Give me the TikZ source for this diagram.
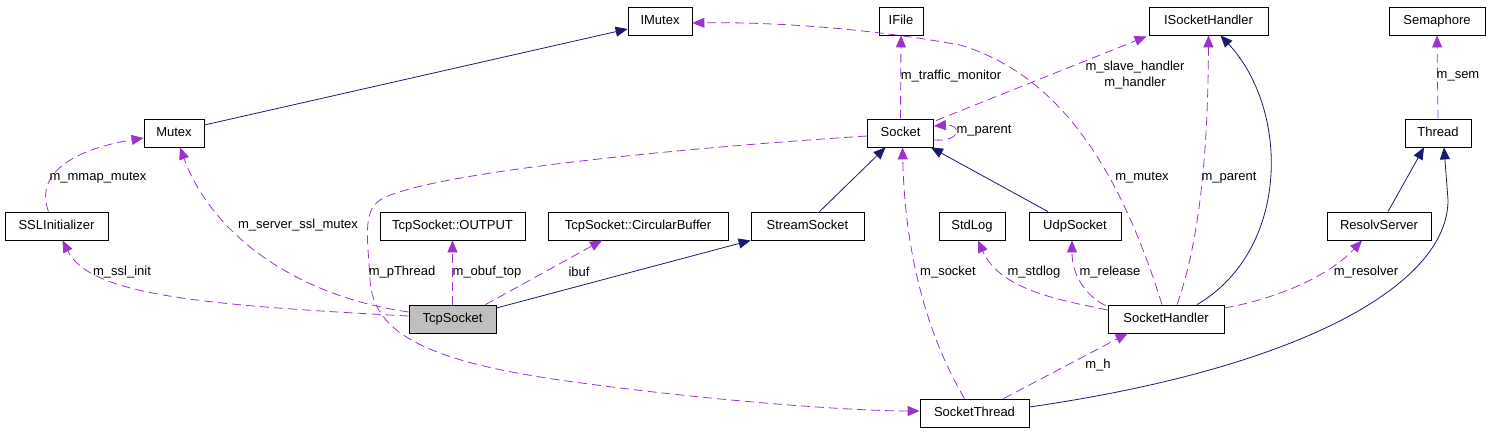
\documentclass[tikz,border=0pt]{standalone}
\usepackage{fontspec}
\setmainfont{Liberation Sans}
\usepackage{tikz}
\usetikzlibrary{arrows.meta, positioning, calc}
\definecolor{usage}{RGB}{154, 50, 205}
\definecolor{inherit}{RGB}{25, 25, 112}
\definecolor{focus}{RGB}{191, 191, 191}

\begin{document}
\begin{tikzpicture}[x=1pt, y=-1pt,
		box/.style={rectangle, draw=black, line width=0.8pt,
			minimum height=28pt, minimum width=#1, inner sep=0pt,
			text height=9.5pt, text depth=2.5pt,
			font=\fontsize{13}{16}\selectfont},
		box/.default=60pt,
		member/.style={-{Triangle[length=12pt, width=10pt]}, line width=0.8pt,
			dash pattern=on 9pt off 5pt, color=usage},
		derive/.style={-{Triangle[length=12pt, width=10pt]}, line width=0.8pt,
			color=inherit},
		lbl/.style={font=\fontsize{13}{16}\selectfont, align=center,
			inner sep=0pt, text=black}
		]
		\useasboundingbox (0,0) rectangle (1491,432);
		
		\node[box=64pt] (imutex) at (660,21) {IMutex};
		\node[box=44pt] (ifile) at (901,21) {IFile};
		\node[box=119pt] (ishandler) at (1208.5,21) {ISocketHandler};
		\node[box=96pt] (semaphore) at (1437,21) {Semaphore};
		
		\node[box=60pt] (mutex) at (174,133) {Mutex};
		\node[box=66pt] (socket) at (900.5,133) {Socket};
		\node[box=66pt] (thread) at (1438,133) {Thread};
		
		\node[box=103pt] (sslinit) at (56.5,226) {SSLInitializer};
		\node[box=145pt] (output) at (452.5,226) {TcpSocket::OUTPUT};
		\node[box=180pt] (circbuf) at (638,226) {TcpSocket::CircularBuffer};
		\node[box=113pt] (stream) at (807.5,226) {StreamSocket};
		\node[box=66pt] (stdlog) at (972,226) {StdLog};
		\node[box=92pt] (udp) at (1075,226) {UdpSocket};
		\node[box=104pt] (resolv) at (1379,226) {ResolvServer};
		
		\node[box=87pt, fill=focus] (tcp) at (452.5,319) {TcpSocket};
		\node[box=116pt] (handler) at (1166,319) {SocketHandler};
		\node[box=109pt] (sthread) at (974.5,413) {SocketThread};
		
		% inheritance
		\draw[derive] ($(mutex.east)+(0,-8)$) -- ($(imutex.west)+(0,8)$);
		\draw[derive] ($(stream.north)+(12,0)$) -- ($(socket.south)+(-15,0)$);
		\draw[derive] ($(udp.north)+(-27,0)$) -- ($(socket.south east)+(-3,0)$);
		\draw[derive] ($(tcp.east)+(0,-11)$) -- (stream.south west);
		\draw[derive] ($(handler.north)+(31,0)$) .. controls (1290,250) and (1290,110)
		.. ($(ishandler.south)+(12,0)$);
		\draw[derive] ($(resolv.north)+(9,0)$) -- ($(thread.south)+(-14,0)$);
		\draw[derive] ($(sthread.east)+(0,-6)$) .. controls (1300,368) and (1448,285)
		.. (1448,200) -- ($(thread.south)+(6,0)$);
		
		% members
		\draw[member] ($(sslinit.north)+(-8,0)$) .. controls (35,175) and (70,150)
		.. ($(mutex.west)+(0,5)$)
		node[lbl] (lmmap) at (98,178) {m\_mmap\_mutex};
		\draw[member] ($(tcp.west)+(0,-3)$) .. controls (200,305) and (90,295)
		.. ($(sslinit.south)+(6,0)$)
		node[lbl] (lssl) at (122,272) {m\_ssl\_init};
		\draw[member] ($(tcp.west)+(0,-7)$) .. controls (290,295) and (210,230)
		.. ($(mutex.south)+(6,0)$)
		node[lbl] (lsslmutex) at (298,225) {m\_server\_ssl\_mutex};
		\draw[member] (tcp.north) -- (output.south)
		node[lbl] (lobuf) at (487,272) {m\_obuf\_top};
		\draw[member] ($(tcp.north)+(33,0)$) -- ($(circbuf.south)+(-36,0)$)
		node[lbl] (libuf) at (579,272) {ibuf};
		\draw[member] ($(socket.west)+(0,3)$) .. controls (650,150) and (420,175)
		.. (380,200) .. controls (362,212) and (368,240)
		.. (370,280) .. controls (373,330) and (420,360)
		.. (560,380) .. controls (700,400) and (850,411)
		.. ($(sthread.west)+(0,-2)$)
		node[lbl] (lpthread) at (402,272) {m\_pThread};
		\draw[member] (socket.north) -- (ifile.south)
		node[lbl] (ltraffic) at (951,76) {m\_traffic\_monitor};
		\draw[member] ($(socket.north east)+(2,2)$) -- ($(ishandler.south west)+(-2,1)$)
		node[lbl] (lhandler) at (1135,75) {m\_slave\_handler\\m\_handler};
		\draw[member] ($(socket.east)+(0,7)$) .. controls (962,142) and (962,124)
		.. ($(socket.east)+(0,-7)$)
		node[lbl] (lsparent) at (984,131) {m\_parent};
		\draw[member] ($(handler.north)+(-4,0)$) .. controls (1120,170) and (1060,75)
		.. (960,45) .. controls (850,25) and (750,22) .. ($(imutex.east)+(0,2)$)
		node[lbl] (lmutex) at (1142,178) {m\_mutex};
		\draw[member] ($(handler.north)+(11,0)$) .. controls (1200,240) and (1208,150)
		.. (ishandler.south)
		node[lbl] (lhparent) at (1229,178) {m\_parent};
		\draw[member] ($(handler.west)+(0,-9)$) .. controls (1060,300) and (1000,290)
		.. ($(stdlog.south)+(6,0)$)
		node[lbl] (lstdlog) at (1034,272) {m\_stdlog};
		\draw[member] ($(handler.north west)+(-2,1)$) .. controls (1085,295) and (1072,275)
		.. ($(udp.south)+(-3,0)$)
		node[lbl] (lrelease) at (1110,272) {m\_release};
		\draw[member] ($(handler.east)+(0,-11)$) .. controls (1280,298) and (1330,275)
		.. ($(resolv.south)+(-17,0)$)
		node[lbl] (lresolver) at (1366,272) {m\_resolver};
		\draw[member] ($(sthread.north)+(-10,0)$) .. controls (930,340) and (905,260)
		.. ($(socket.south)+(2,0)$)
		node[lbl] (lsocket) at (948,272) {m\_socket};
		\draw[member] ($(sthread.north)+(29,0)$) -- ($(handler.south west)+(20,0)$)
		node[lbl] (lh) at (1098,365) {m\_h};
		\draw[member] (thread.north) -- (semaphore.south)
		node[lbl] (lsem) at (1458,76) {m\_sem};
	\end{tikzpicture}
\end{document}
